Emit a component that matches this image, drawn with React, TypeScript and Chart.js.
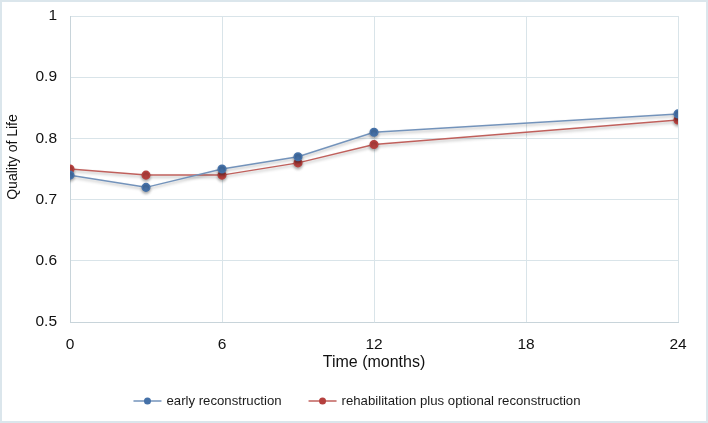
import React, { useEffect, useRef } from "react";
import { Chart, registerables } from "chart.js";

Chart.register(...registerables);

// ---- data ----
const months = [0, 3, 6, 9, 12, 24];
const earlyReconstruction = [0.74, 0.72, 0.75, 0.77, 0.81, 0.84];
const rehabilitation = [0.75, 0.74, 0.74, 0.76, 0.79, 0.83];
const seriesLabels = ["early reconstruction", "rehabilitation plus optional reconstruction"];
const xTicks = [0, 6, 12, 18, 24];
const yTicks = [0.5, 0.6, 0.7, 0.8, 0.9, 1];
const xTitle = "Time (months)";
const yTitle = "Quality of Life";

const FONT = '"Liberation Sans", Arial, Helvetica, sans-serif';

const framePlugin = {
  id: "frame",
  beforeDraw(chart: any) {
    const ctx = chart.ctx;
    ctx.save();
    ctx.fillStyle = "#ffffff";
    ctx.fillRect(0, 0, chart.width, chart.height);
    ctx.strokeStyle = "#dbe6ec";
    ctx.lineWidth = 2;
    ctx.strokeRect(1, 1, chart.width - 2, chart.height - 2);
    ctx.restore();
  },
};

const shadowPlugin = {
  id: "shadow",
  beforeDatasetDraw(chart: any) {
    const ctx = chart.ctx;
    ctx.save();
    ctx.shadowColor = "rgba(0,0,0,0.28)";
    ctx.shadowBlur = 3;
    ctx.shadowOffsetY = 2;
  },
  afterDatasetDraw(chart: any) {
    chart.ctx.restore();
  },
};

// y-axis title (drawn a little above the plot centre, as in the reference)
const yTitlePlugin = {
  id: "yTitle",
  afterDraw(chart: any) {
    const ctx = chart.ctx;
    const area = chart.chartArea;
    ctx.save();
    ctx.font = `14px ${FONT}`;
    ctx.fillStyle = "#111";
    ctx.textAlign = "center";
    ctx.textBaseline = "middle";
    ctx.translate(13, (area.top + area.bottom) / 2 - 12);
    ctx.rotate(-Math.PI / 2);
    ctx.fillText(yTitle, 0, 0);
    ctx.restore();
  },
};

const legendPlugin = {
  id: "customLegend",
  afterDraw(chart: any) {
    const ctx = chart.ctx;
    ctx.save();
    ctx.font = `13.2px ${FONT}`;
    const lineLen = 28;
    const gap = 5;
    const itemGap = 27;
    const items = chart.data.datasets.map((ds: any) => ({
      label: ds.label,
      line: ds.borderColor,
      dot: ds.pointBackgroundColor,
      w: ctx.measureText(ds.label).width,
    }));
    const total =
      items.reduce((s: number, it: any) => s + lineLen + gap + it.w, 0) +
      itemGap * (items.length - 1);
    let x = chart.width / 2 + 3 - total / 2;
    const y = 401;
    for (const it of items) {
      ctx.strokeStyle = it.line;
      ctx.lineWidth = 1.5;
      ctx.beginPath();
      ctx.moveTo(x, y);
      ctx.lineTo(x + lineLen, y);
      ctx.stroke();
      ctx.fillStyle = it.dot;
      ctx.beginPath();
      ctx.arc(x + lineLen / 2, y, 3.5, 0, Math.PI * 2);
      ctx.fill();
      ctx.fillStyle = "#1a1a1a";
      ctx.textBaseline = "middle";
      ctx.textAlign = "left";
      ctx.fillText(it.label, x + lineLen + gap, y + 0.5);
      x += lineLen + gap + it.w + itemGap;
    }
    ctx.restore();
  },
};

export default function App() {
  const ref = useRef<HTMLCanvasElement | null>(null);

  useEffect(() => {
    document.body.style.margin = "0";
    const canvas = ref.current;
    if (!canvas) return;
    const gridColor = "#d9e4e9";
    const chart = new Chart(canvas, {
      type: "line",
      data: {
        datasets: [
          {
            label: seriesLabels[0],
            data: months.map((m, i) => ({ x: m, y: earlyReconstruction[i] })),
            borderColor: "#7393bb",
            backgroundColor: "#4571a8",
            pointBackgroundColor: "#4571a8",
            pointBorderColor: "#4571a8",
            borderWidth: 1.5,
            pointRadius: 3.8,
            tension: 0,
          },
          {
            label: seriesLabels[1],
            data: months.map((m, i) => ({ x: m, y: rehabilitation[i] })),
            borderColor: "#c0605c",
            backgroundColor: "#b5403e",
            pointBackgroundColor: "#b5403e",
            pointBorderColor: "#b5403e",
            borderWidth: 1.5,
            pointRadius: 3.8,
            tension: 0,
          },
        ],
      },
      options: {
        responsive: false,
        animation: false,
        layout: { padding: { left: 0, right: 30, top: 16, bottom: 51 } },
        plugins: {
          legend: { display: false },
          tooltip: { enabled: false },
        },
        scales: {
          x: {
            type: "linear",
            min: 0,
            max: 24,
            afterBuildTicks: (s: any) => {
              s.ticks = xTicks.map((v) => ({ value: v }));
            },
            afterFit: (s: any) => {
              s.height = 50;
              s.paddingLeft = 0;
              s.paddingRight = 0;
            },
            grid: { color: gridColor, lineWidth: 1, drawTicks: false },
            border: { display: true, color: "#c8d4da", width: 1 },
            ticks: {
              padding: 13,
              color: "#111",
              font: { family: FONT, size: 15.5 },
              maxRotation: 0,
              callback: (v: any) => String(v),
            },
            title: {
              display: true,
              text: xTitle,
              color: "#111",
              font: { family: FONT, size: 16 },
              padding: { top: 0, bottom: 0 },
            },
          },
          y: {
            type: "linear",
            min: 0.5,
            max: 1,
            afterBuildTicks: (s: any) => {
              s.ticks = yTicks.map((v) => ({ value: v }));
            },
            afterFit: (s: any) => {
              s.width = 70;
              s.paddingTop = 0;
              s.paddingBottom = 0;
            },
            grid: { color: gridColor, lineWidth: 1, drawTicks: false },
            border: { display: true, color: "#c8d4da", width: 1 },
            ticks: {
              padding: 13,
              color: "#111",
              font: { family: FONT, size: 15.5 },
              callback: (v: any) => String(Number(Number(v).toFixed(1))),
            },
            title: { display: false },
          },
        },
      } as any,
      plugins: [framePlugin, shadowPlugin, yTitlePlugin, legendPlugin],
    });
    return () => chart.destroy();
  }, []);

  return (
    <div style={{ width: 708, height: 423 }}>
      <canvas ref={ref} width={708} height={423} style={{ display: "block" }} />
    </div>
  );
}
